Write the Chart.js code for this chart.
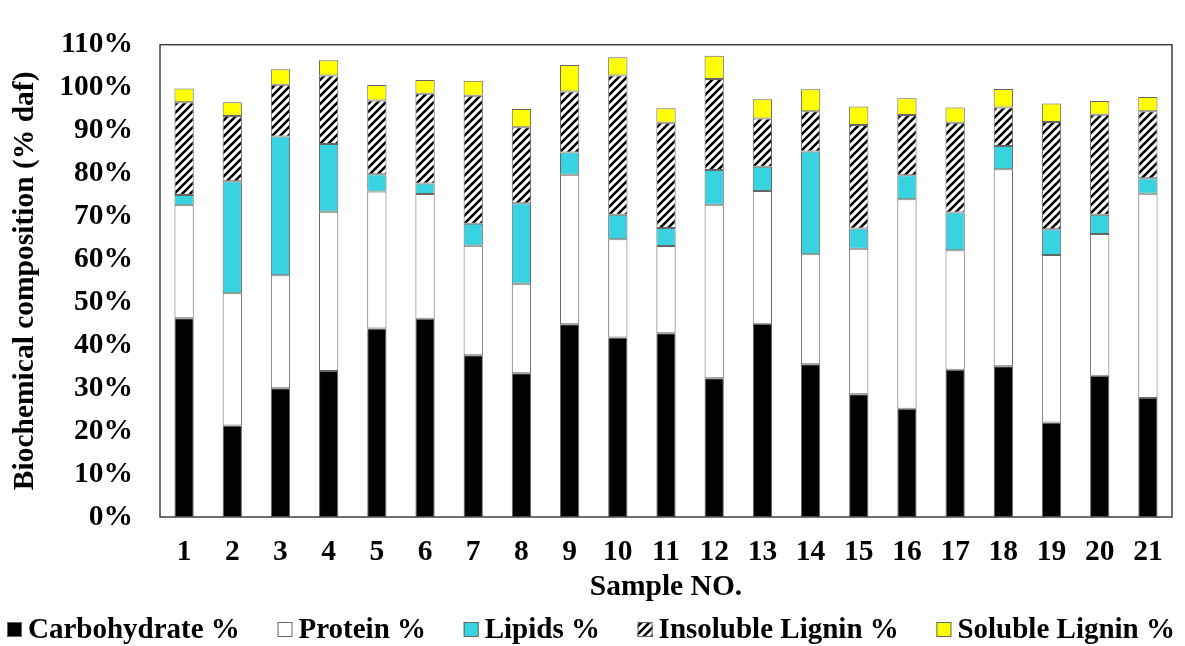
<!DOCTYPE html>
<html><head><meta charset="utf-8">
<script src="https://cdn.jsdelivr.net/npm/chart.js@4.4.0/dist/chart.umd.min.js"></script>
<style>html,body{margin:0;padding:0;background:#fff}#wrap{width:1185px;height:646px;position:relative}</style>
</head><body><div id="wrap"><canvas id="c" width="1185" height="646"></canvas></div>
<script>
const samples = ['1','2','3','4','5','6','7','8','9','10','11','12','13','14','15','16','17','18','19','20','21'];
const carbohydrate = [46.3,21.3,30.0,34.0,43.9,46.2,37.7,33.5,44.9,41.8,42.8,32.3,45.0,35.6,28.6,25.2,34.3,35.1,22.0,32.9,27.7];
const protein      = [26.3,30.8,26.3,37.1,31.9,29.0,25.5,20.8,34.8,22.9,20.3,40.4,30.9,25.6,33.9,48.8,27.8,45.9,39.0,33.0,47.6];
const lipids       = [2.4,26.1,32.3,15.8,4.0,2.5,5.1,18.8,5.2,5.7,4.2,8.1,5.7,23.9,4.7,5.6,8.8,5.4,6.0,4.5,3.6];
const insolubleLignin = [21.6,15.2,12.1,15.9,17.2,20.9,29.8,17.7,14.2,32.4,24.5,21.2,11.2,9.4,24.1,14.0,20.9,9.0,25.0,23.3,15.6];
const solubleLignin   = [3.2,3.2,3.6,3.6,3.6,3.2,3.5,4.2,6.2,4.3,3.4,5.4,4.5,5.1,4.3,3.9,3.6,4.3,4.3,3.2,3.3];
const seriesNames = ['Carbohydrate %','Protein %','Lipids %','Insoluble Lignin %','Soluble Lignin %'];
const yTickValues = [0,10,20,30,40,50,60,70,80,90,100,110];

const FONT = '"Liberation Serif","Times New Roman",serif';
const FS = 29.5;

// hatch pattern for insoluble lignin
const pc = document.createElement('canvas'); pc.width = 8; pc.height = 8;
const g = pc.getContext('2d');
g.fillStyle = '#fff'; g.fillRect(0,0,8,8);
g.strokeStyle = '#000'; g.lineWidth = 2.6;
g.beginPath();
g.moveTo(-2,10); g.lineTo(10,-2);
g.moveTo(-2,2); g.lineTo(2,-2);
g.moveTo(6,10); g.lineTo(10,6);
g.stroke();
const hatch = g.createPattern(pc, 'repeat');

const fills = ['#000000', '#ffffff', '#38D3E0', hatch, '#FFFF00'];
const values = [carbohydrate, protein, lipids, insolubleLignin, solubleLignin];

const datasets = seriesNames.map((name, i) => ({
  label: name,
  data: values[i],
  backgroundColor: fills[i],
  borderColor: '#666666',
  borderWidth: 1,
  borderSkipped: false,
  barPercentage: 0.4,
  categoryPercentage: 1.0
}));

const frame = {
  id: 'frame',
  afterDatasetsDraw(chart) {
    const {ctx, chartArea: a} = chart;
    ctx.save();
    ctx.strokeStyle = '#404040';
    ctx.lineWidth = 1.5;
    ctx.strokeRect(a.left, a.top, a.right - a.left, a.bottom - a.top);
    ctx.restore();
  }
};

const customLegend = {
  id: 'customLegend',
  afterDraw(chart) {
    const ctx = chart.ctx;
    ctx.save();
    ctx.font = '700 29px ' + FONT;
    ctx.textBaseline = 'middle';
    ctx.textAlign = 'left';
    const box = 15, gap = 6, x0 = 7, x1 = 1175, cy = 629.5;
    const ds = chart.data.datasets;
    const widths = ds.map(d => box + gap + ctx.measureText(d.label).width);
    const total = widths.reduce((s, w) => s + w, 0);
    const spacing = (x1 - x0 - total) / (ds.length - 1);
    let x = x0;
    ds.forEach((d, i) => {
      ctx.fillStyle = d.backgroundColor;
      ctx.fillRect(x, cy - box/2, box, box);
      ctx.strokeStyle = '#666666';
      ctx.lineWidth = 1;
      ctx.strokeRect(x + 0.5, cy - box/2 + 0.5, box - 1, box - 1);
      ctx.fillStyle = '#000';
      ctx.fillText(d.label, x + box + gap, cy + 1);
      x += widths[i] + spacing;
    });
    ctx.restore();
  }
};

new Chart(document.getElementById('c'), {
  type: 'bar',
  data: { labels: samples, datasets },
  plugins: [frame, customLegend],
  options: {
    responsive: false,
    animation: false,
    layout: { padding: { left: 0, right: 13, top: 21, bottom: 40 } },
    plugins: { legend: { display: false }, tooltip: { enabled: false } },
    scales: {
      x: {
        stacked: true,
        grid: { display: false, drawTicks: false },
        border: { display: false },
        ticks: { color: '#000', font: { family: FONT, size: FS, weight: 'bold' }, padding: 18, maxRotation: 0, autoSkip: false },
        title: { display: true, text: 'Sample NO.', color: '#000', font: { family: FONT, size: FS, weight: 'bold' }, padding: { top: 0, bottom: 1 } },
        afterFit(scale) { scale.height = 89; }
      },
      y: {
        stacked: true,
        min: 0, max: 110,
        grid: { display: false, drawTicks: false },
        border: { display: false },
        afterBuildTicks(scale) { scale.ticks = yTickValues.map(v => ({ value: v })); },
        ticks: { color: '#000', font: { family: FONT, size: FS, weight: 'bold' }, padding: 27, callback: v => v + '%' },
        title: { display: true, text: 'Biochemical composition (% daf)', color: '#000', font: { family: FONT, size: FS, weight: 'bold' }, padding: { top: 8, bottom: 0 } },
        afterFit(scale) { scale.width = 160; }
      }
    }
  }
});
</script>
</body></html>
